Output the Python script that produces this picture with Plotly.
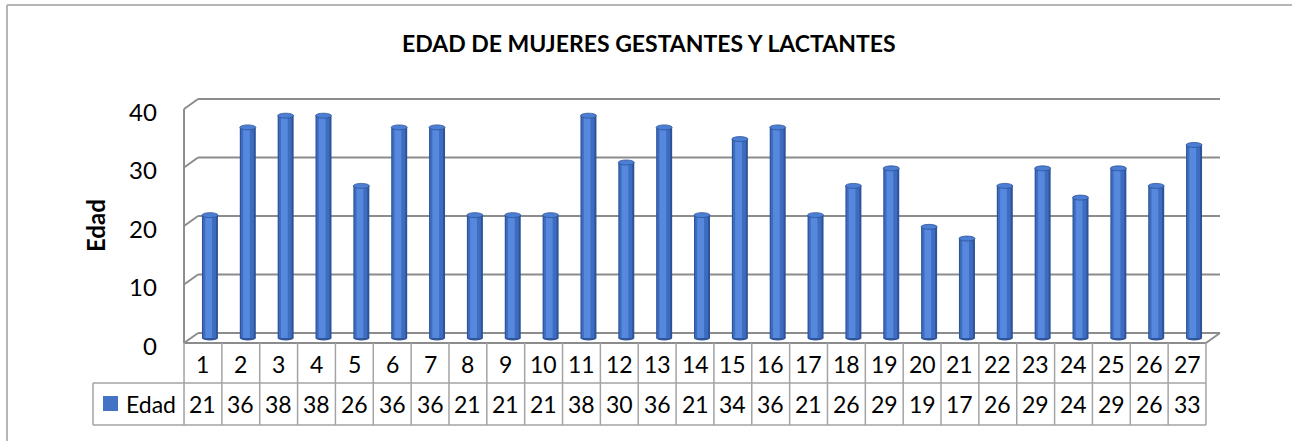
import plotly.graph_objects as go

# ---------------- data ----------------
categories = list(range(1, 28))
edad = [21, 36, 38, 38, 26, 36, 36, 21, 21, 21, 38, 30, 36, 21,
        34, 36, 21, 26, 29, 19, 17, 26, 29, 24, 29, 26, 33]
y_ticks = [0, 10, 20, 30, 40]
series_name = "Edad"
title_text = "EDAD DE MUJERES GESTANTES Y LACTANTES"
y_title = "Edad"

# ---------------- layout calibration ----------------
W, H = 1292, 441
PX_PER_CAT = 37.85      # pixels per category
CAT0_PX = 172.1         # pixel position of x = 0
PX_PER_VAL = 5.85       # pixels per value unit
VAL0_PX = 338.0         # pixel position of y = 0 (bar plane)
DX = 7 / PX_PER_CAT     # half depth offset (x)
DY = 5 / PX_PER_VAL     # half depth offset (y)
BAR_W = 16 / PX_PER_CAT
CAP_H = 5 / PX_PER_VAL

FONT = "Lato, 'Open Sans', sans-serif"
GRID = "#8c8c8c"
TABLE = "#a3a3a3"
BLUE = "#4472C4"


def px(p):
    return p / W


def py(p):
    return 1 - p / H


def cat_to_paper(x):
    return (CAT0_PX + x * PX_PER_CAT) / W


x_left = categories[0] - 0.5
x_right = categories[-1] + 0.5
top_tick = max(y_ticks)

fig = go.Figure()

# cylinder-like bars: layered bars for shading
layers = [(BAR_W, 0.0, "#2d5498"),
          (BAR_W * 0.80, -0.012, "#3e6cc0"),
          (BAR_W * 0.42, -0.035, "#5689de")]
for w, shift, c in layers:
    fig.add_bar(x=categories, y=edad, width=w, offset=-w / 2 + shift,
                marker=dict(color=c, line=dict(width=0)),
                hoverinfo="skip", showlegend=False)

shapes = []
# back wall gridlines and left wall diagonals
for v in y_ticks:
    shapes.append(dict(type="line", xref="x", yref="y", layer="below",
                       x0=x_left + DX, x1=x_right + DX, y0=v + DY, y1=v + DY,
                       line=dict(color=GRID, width=2)))
    shapes.append(dict(type="line", xref="x", yref="y", layer="below",
                       x0=x_left - DX, x1=x_left + DX, y0=v - DY, y1=v + DY,
                       line=dict(color=GRID, width=2)))
# front left vertical edge
shapes.append(dict(type="line", xref="x", yref="y", layer="below",
                   x0=x_left - DX, x1=x_left - DX, y0=-DY, y1=top_tick - DY,
                   line=dict(color=GRID, width=2)))
# floor right diagonal and front edge
shapes.append(dict(type="line", xref="x", yref="y", layer="below",
                   x0=x_right - DX, x1=x_right + DX, y0=-DY, y1=DY,
                   line=dict(color=GRID, width=2)))
shapes.append(dict(type="line", xref="x", yref="y", layer="below",
                   x0=x_left - DX, x1=x_right - DX, y0=-DY, y1=-DY,
                   line=dict(color=GRID, width=2)))

# bar bottoms (below bars) and caps (above bars)
for k, v in zip(categories, edad):
    shapes.append(dict(type="circle", xref="x", yref="y", layer="below",
                       x0=k - BAR_W / 2, x1=k + BAR_W / 2,
                       y0=-CAP_H / 2, y1=CAP_H / 2,
                       fillcolor="#2f5598", line=dict(width=0)))
    shapes.append(dict(type="circle", xref="x", yref="y", layer="above",
                       x0=k - BAR_W / 2, x1=k + BAR_W / 2,
                       y0=v - CAP_H / 2, y1=v + CAP_H / 2,
                       fillcolor="#4c7ed4", line=dict(color="#2d5498", width=0.8)))

# data table
row1_top, row_mid, row2_bot = 343, 383, 425
legend_left = 93
for i in range(len(categories) + 1):
    xb = x_left - DX + i
    shapes.append(dict(type="line", xref="x", yref="paper",
                       x0=xb, x1=xb, y0=py(row1_top), y1=py(row2_bot),
                       line=dict(color=TABLE, width=1.5)))
shapes.append(dict(type="line", xref="paper", yref="paper",
                   x0=px(legend_left), x1=px(legend_left),
                   y0=py(row_mid), y1=py(row2_bot),
                   line=dict(color=TABLE, width=1.5)))
for yb in (row_mid, row2_bot):
    shapes.append(dict(type="line", xref="paper", yref="paper",
                       x0=px(legend_left), x1=cat_to_paper(x_right - DX),
                       y0=py(yb), y1=py(yb),
                       line=dict(color=TABLE, width=1.5)))
# legend key
shapes.append(dict(type="rect", xref="paper", yref="paper",
                   x0=px(103), x1=px(118), y0=py(396), y1=py(411),
                   fillcolor=BLUE, line=dict(width=0)))
# outer chart border
shapes.append(dict(type="line", xref="paper", yref="paper",
                   x0=px(7), x1=1, y0=py(5), y1=py(5),
                   line=dict(color="#b5b5b5", width=2)))
shapes.append(dict(type="line", xref="paper", yref="paper",
                   x0=px(7), x1=px(7), y0=py(5), y1=0,
                   line=dict(color="#b5b5b5", width=2)))

annotations = []
tick_font = dict(family=FONT, size=24, color="#000000")
table_font = dict(family=FONT, size=23, color="#000000")
for v in y_ticks:
    annotations.append(dict(x=px(159), xref="paper", y=v - DY + 2 / PX_PER_VAL * -1, yref="y",
                            text=str(v), showarrow=False, xanchor="right",
                            yanchor="middle", font=tick_font))
for k, v in zip(categories, edad):
    annotations.append(dict(x=k - DX, xref="x", y=py((row1_top + row_mid) / 2 + 1),
                            yref="paper", text=str(k), showarrow=False,
                            xanchor="center", yanchor="middle", font=table_font))
    annotations.append(dict(x=k - DX, xref="x", y=py((row_mid + row2_bot) / 2),
                            yref="paper", text=str(v), showarrow=False,
                            xanchor="center", yanchor="middle", font=table_font))
annotations.append(dict(x=px(124), xref="paper", y=py((row_mid + row2_bot) / 2),
                        yref="paper", text=series_name, showarrow=False,
                        xanchor="left", yanchor="middle", font=table_font))
annotations.append(dict(x=px(95), xref="paper", y=py(226), yref="paper",
                        text="<b>" + y_title + "</b>", showarrow=False,
                        textangle=-90, xanchor="center", yanchor="middle",
                        font=dict(family=FONT, size=24, color="#000000")))
annotations.append(dict(x=px(649), xref="paper", y=py(43), yref="paper",
                        text="<b>" + title_text + "</b>", showarrow=False,
                        xanchor="center", yanchor="middle",
                        font=dict(family=FONT, size=23, color="#000000")))

fig.update_layout(
    width=W, height=H, autosize=False,
    margin=dict(l=0, r=0, t=0, b=0, pad=0),
    paper_bgcolor="white", plot_bgcolor="white",
    barmode="overlay",
    xaxis=dict(range=[-CAT0_PX / PX_PER_CAT, (W - CAT0_PX) / PX_PER_CAT],
               visible=False, fixedrange=True),
    yaxis=dict(range=[(VAL0_PX - H) / PX_PER_VAL, VAL0_PX / PX_PER_VAL],
               visible=False, fixedrange=True),
    shapes=shapes, annotations=annotations,
    showlegend=False,
)

fig.write_html("out.html", config={"displayModeBar": False},
               post_script="document.body.style.margin='0px';")
